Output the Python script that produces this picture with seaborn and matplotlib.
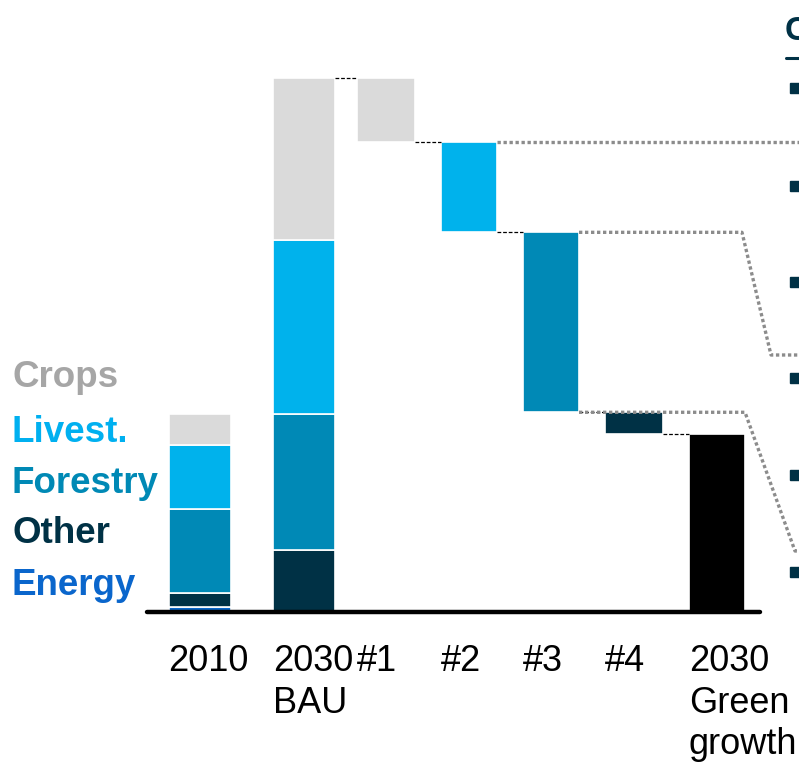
import matplotlib.pyplot as plt
import seaborn as sns

# stacked bars (bottom -> top), emissions index, 2030 BAU = 100
sectors = ["Energy", "Other", "Forestry", "Livest.", "Crops"]
values_2010 = [1.0, 2.5, 15.7, 12.0, 5.8]
values_2030_bau = [0.0, 11.6, 25.5, 32.6, 30.3]

# waterfall levers from BAU to green growth
levers = ["#1", "#2", "#3", "#4"]
lever_sector = ["Crops", "Livest.", "Forestry", "Other"]
lever_cuts = [12.0, 16.9, 33.7, 4.1]

bar_labels = ["2010", "2030\nBAU", "#1", "#2", "#3", "#4", "2030\nGreen\ngrowth"]

# layout (x in figure pixels)
centers = [200, 304, 386, 469, 551, 634, 717]
widths = [62, 62, 58, 56, 56, 58, 56]

fill_colors = {"Energy": "#0A66C8", "Other": "#003145", "Forestry": "#0089B6",
               "Livest.": "#00B2EC", "Crops": "#DADADA"}
text_colors = {"Energy": "#0A66CC", "Other": "#003145", "Forestry": "#0089B5",
               "Livest.": "#00B0F0", "Crops": "#A6A6A6"}

sns.set_style("white")
plt.rcParams['font.family'] = ['Liberation Sans', 'DejaVu Sans']

W, H = 799, 767
base_px = 612
px_per_unit = 5.34

fig = plt.figure(figsize=(W / 100, H / 100), dpi=100)
ax = fig.add_axes([0, (H - base_px) / H, 1, base_px / H])


def bar(pos, w, bottom, height, color):
    sns.barplot(x=[pos], y=[height], bottom=bottom, width=w, native_scale=True,
                color=color, saturation=1, edgecolor="white", linewidth=1.2,
                errorbar=None, ax=ax)


# 2010 and 2030 BAU stacks
for k, vals in enumerate([values_2010, values_2030_bau]):
    bottom = 0.0
    for sec, v in zip(sectors, vals):
        if v > 0:
            bar(centers[k], widths[k], bottom, v, fill_colors[sec])
        bottom += v

# waterfall
level = sum(values_2030_bau)
levels = [level]
for i, (sec, cut) in enumerate(zip(lever_sector, lever_cuts)):
    j = i + 2
    bar(centers[j], widths[j], level - cut, cut, fill_colors[sec])
    level -= cut
    levels.append(level)
bar(centers[6], widths[6], 0, level, "black")

# dashed connectors
for i in range(5):
    x0 = centers[i + 1] + widths[i + 1] / 2
    x1 = centers[i + 2] - widths[i + 2] / 2
    ax.plot([x0, x1], [levels[i], levels[i]], color="black", lw=0.9,
            linestyle=(0, (3, 1.5)), clip_on=False)

# dotted call-out lines towards the right panel
def py(p):
    return (base_px - p) / px_per_unit

dot = dict(color="#8C8C8C", lw=2.4, linestyle=(0, (1, 0.8)), clip_on=False, zorder=5)
r2 = centers[3] + widths[3] / 2
r3 = centers[4] + widths[4] / 2
ax.plot([r2, 799], [levels[1], levels[1]], **dot)
ax.plot([r3, 742, 771, 799], [levels[2], levels[2], py(355), py(355)], **dot)
ax.plot([r3, 745, 795, 799], [levels[3], levels[3], py(551), py(551)], **dot)

# baseline
ax.plot([147, 760], [0, 0], color="black", lw=3.2, solid_capstyle="round",
        clip_on=False, zorder=6)

# right panel header (cut by the right edge as in the source slide) and bullets
ax.text(785, py(40), "C", color="#003145", fontsize=24, fontweight="bold",
        ha="left", va="baseline")
ax.plot([786, 799], [py(58), py(58)], color="#003145", lw=2.2, clip_on=False)
for p in [88, 186, 282, 378, 475, 572]:
    ax.plot([795], [py(p)], marker="s", ms=7, color="#003145", clip_on=False)

# sector legend on the left
for sec, p in zip(["Crops", "Livest.", "Forestry", "Other", "Energy"],
                  [387, 442, 493, 543, 595]):
    fig.text(12 / W, 1 - p / H, sec, color=text_colors[sec], fontsize=26.5,
             fontweight="bold", ha="left", va="baseline")

# axes
lefts = [c - w / 2 for c, w in zip(centers, widths)]
lefts[0] -= 1
ax.set_xticks(lefts)
ax.set_xticklabels(bar_labels, fontsize=26, ha="left", va="top",
                   linespacing=1.25, color="black")
ax.tick_params(axis="x", length=0, pad=23)
ax.set_yticks([])
ax.set_xlabel("")
ax.set_ylabel("")
for s in ax.spines.values():
    s.set_visible(False)
ax.set_xlim(0, W)
ax.set_ylim(0, base_px / px_per_unit)

fig.savefig("out.png", dpi=100)
